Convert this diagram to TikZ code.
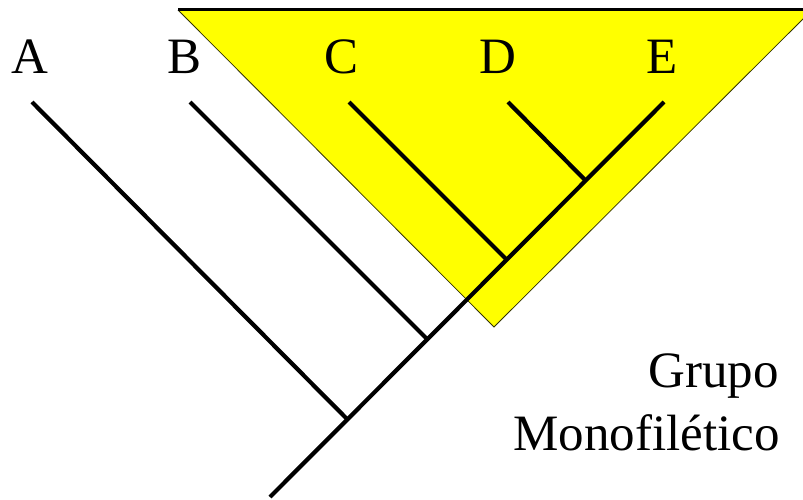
\documentclass[tikz,border=0pt]{standalone}
\usepackage{fontspec}
\setmainfont{Liberation Serif}
\definecolor{grpyellow}{RGB}{255,255,0}
\begin{document}
\begin{tikzpicture}[x=1pt,y=-1pt,
  branch/.style={line width=4.2pt, black},
  lbl/.style={font=\fontsize{51}{60}\selectfont, inner sep=0pt, anchor=base},
  grp/.style={font=\fontsize{51}{60}\selectfont, inner sep=0pt, anchor=base east}]
\useasboundingbox (0,0) rectangle (803,500);
% monophyletic group triangle
\coordinate (tl) at (178,10);
\coordinate (tr) at (812,10);
\coordinate (tb) at (494,327);
\fill[grpyellow] (tl) -- (tr) -- (tb) -- cycle;
\draw[line width=0.8pt, black!80!grpyellow] (tl) -- (tb) -- (tr);
\draw[line width=3pt, black] (tl) -- (tr);
% tips and junctions
\coordinate (root) at (270,497);
\coordinate (tA) at (32,102);
\coordinate (tB) at (190,102);
\coordinate (tC) at (349,102);
\coordinate (tD) at (508,102);
\coordinate (tE) at (664,102);
\coordinate (jA) at (347.5,419.5);
\coordinate (jB) at (427.5,339.5);
\coordinate (jC) at (507,260);
\coordinate (jD) at (586,181);
\draw[branch] (root) -- (tE);
\draw[branch] (tA) -- (jA);
\draw[branch] (tB) -- (jB);
\draw[branch] (tC) -- (jC);
\draw[branch] (tD) -- (jD);
% labels
\node[lbl] (A) at (30,74) {A};
\node[lbl] (B) at (185,74) {B};
\node[lbl] (C) at (342,74) {C};
\node[lbl] (D) at (498,74) {D};
\node[lbl] (E) at (662,74) {E};
\node[grp] (g1) at (779,387) {Grupo};
\node[grp] (g2) at (780,450) {Monofilético};
\end{tikzpicture}
\end{document}
